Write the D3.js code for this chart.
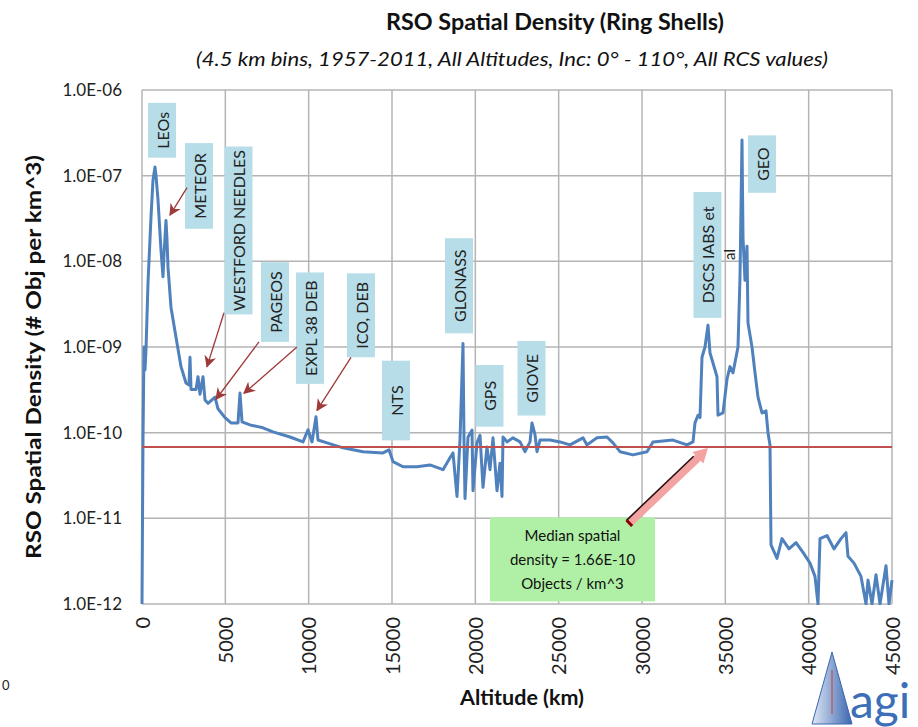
<!DOCTYPE html>
<html>
<head>
<meta charset="utf-8">
<script src="https://cdn.jsdelivr.net/npm/d3@7"></script>
<style>
  body { margin: 0; background: #fff; }
  svg { display: block; font-family: Lato, "Open Sans", sans-serif; }
  .tick line { display: none; }
  .domain { display: none; }
</style>
</head>
<body>
<svg id="chart" width="918" height="727"></svg>
<script>
// altitude (km) and spatial density (objects per km^3)
const altitudeKm = [
  0, 60, 120, 180, 240, 360, 540, 660, 780, 840, 960, 1140, 1260, 1320, 1440, 1500, 1560, 1740, 2040, 2340,
  2640, 2820, 2880, 2940, 3240, 3360, 3480, 3660, 3780, 3960, 4380, 4560, 4980, 5340, 5760, 5880, 6000, 6480, 7260, 7860,
  8880, 9660, 9960, 10200, 10440, 10560, 11100, 12060, 13260, 14460, 14820, 15060, 15660, 16500, 17280, 18060, 18480, 18660, 18900, 19080,
  19260, 19320, 19380, 19560, 19800, 19860, 20100, 20280, 20460, 20700, 20880, 21060, 21300, 21480, 21600, 21660, 21900, 22260, 22680, 22980,
  23280, 23400, 23580, 23700, 23880, 24480, 25080, 25680, 26460, 26700, 27300, 27900, 28260, 28680, 29460, 30300, 30660, 31860, 32700, 33060,
  33180, 33360, 33480, 33600, 33780, 33960, 34080, 34260, 34500, 34560, 34860, 35100, 35280, 35460, 35760, 35880, 36000, 36060, 36180, 36300,
  36360, 36600, 36780, 36960, 37200, 37440, 37560, 37680, 37740, 38100, 38400, 38820, 39240, 39660, 40080, 40380, 40560, 40680, 41100, 41520,
  41940, 42240, 42360, 42720, 43140, 43440, 43560, 43800, 44040, 44280, 44640, 44820, 45000
];
const densityPerKm3 = [
  1.0e-12, 8.3e-11, 1.0e-9, 5.4e-10, 9.3e-10, 5.6e-9, 3.3e-8, 8.9e-8, 1.26e-7, 1.0e-7, 5.2e-8, 1.35e-8, 6.6e-9, 1.2e-8, 3.0e-8, 1.8e-8, 8.5e-9, 2.9e-9, 1.3e-9, 5.9e-10,
  3.8e-10, 3.6e-10, 7.6e-10, 3.2e-10, 3.2e-10, 4.5e-10, 2.8e-10, 4.5e-10, 2.4e-10, 2.2e-10, 2.6e-10, 1.9e-10, 1.5e-10, 1.3e-10, 1.3e-10, 2.9e-10, 1.34e-10, 1.23e-10, 1.14e-10, 1.02e-10,
  8.9e-11, 7.8e-11, 1.08e-10, 7.8e-11, 1.53e-10, 8.2e-11, 7.6e-11, 6.65e-11, 6.0e-11, 5.8e-11, 6.3e-11, 4.6e-11, 4.0e-11, 4.0e-11, 4.2e-11, 3.7e-11, 5.1e-11, 5.8e-11, 1.8e-11, 8.3e-11,
  1.1e-9, 8.3e-11, 1.7e-11, 8.9e-11, 1.07e-10, 2.1e-11, 7.6e-11, 9.3e-11, 2.3e-11, 6.8e-11, 3.7e-11, 8.7e-11, 2.1e-11, 4.4e-11, 1.8e-11, 8.9e-11, 7.8e-11, 8.7e-11, 7.8e-11, 6.0e-11,
  7.8e-11, 1.3e-10, 9.5e-11, 6.0e-11, 8.2e-11, 8.2e-11, 7.8e-11, 7.2e-11, 8.7e-11, 7.2e-11, 8.7e-11, 8.9e-11, 7.6e-11, 6.0e-11, 5.5e-11, 6.0e-11, 7.8e-11, 8.2e-11, 7.2e-11, 7.8e-11,
  1.3e-10, 1.6e-10, 1.5e-10, 7.6e-10, 1.0e-9, 1.8e-9, 8.5e-10, 6.5e-10, 4.5e-10, 1.6e-10, 1.7e-10, 4.2e-10, 5.9e-10, 5.0e-10, 1.0e-9, 6.6e-9, 2.6e-7, 1.9e-8, 6.0e-9, 1.5e-8,
  1.9e-9, 1.0e-9, 5.0e-10, 2.6e-10, 1.7e-10, 1.8e-10, 1.0e-10, 7.2e-11, 4.9e-12, 3.4e-12, 5.8e-12, 4.4e-12, 5.2e-12, 4.0e-12, 3.0e-12, 2.1e-12, 1.0e-12, 5.8e-12, 6.3e-12, 4.4e-12,
  5.8e-12, 6.8e-12, 3.6e-12, 3.0e-12, 2.1e-12, 1.0e-12, 1.9e-12, 1.0e-12, 2.2e-12, 1.0e-12, 2.8e-12, 1.0e-12, 1.9e-12
];

const xTicks = [0, 5000, 10000, 15000, 20000, 25000, 30000, 35000, 40000, 45000];
const yTicks = [1e-12, 1e-11, 1e-10, 1e-9, 1e-8, 1e-7, 1e-6];
const medianLine = 6.8e-11;

// callout labels: centre altitude, top and bottom of the box as log10 density
const calloutText = ["LEOs", "METEOR", "WESTFORD NEEDLES", "PAGEOS", "EXPL 38 DEB", "ICO, DEB", "NTS", "GLONASS", "GPS", "GIOVE", "DSCS IABS et", "GEO"];
const calloutAlt  = [1200, 3420, 5790, 7980, 10080, 13140, 15240, 19020, 20850, 23370, 33930, 37200];
const calloutTop  = [-6.15, -6.62, -6.66, -8.01, -8.13, -8.14, -9.16, -7.73, -9.21, -8.93, -7.19, -6.53];
const calloutBot  = [-6.79, -7.62, -8.62, -8.94, -9.43, -9.12, -10.09, -8.84, -9.93, -9.80, -8.66, -7.20];

// red arrows: from [alt, log10] to [alt, log10]
const arrowFrom = [[2700, -7.14], [4920, -8.60], [7020, -8.94], [9300, -9.00], [12540, -9.12]];
const arrowTo   = [[1680, -7.46], [3900, -9.23], [4440, -9.61], [6120, -9.54], [10500, -9.74]];

const medianBoxAlt = [20880, 30780];
const medianBoxLog = [-10.99, -11.97];
const medianText = ["Median spatial", "density = 1.66E-10", "Objects / km^3"];
const pinkArrow = [[29220, -11.06], [33960, -10.18]];

const svg = d3.select("#chart");
const defs = svg.append("defs");
const x = d3.scaleLinear().domain([0, 45000]).range([142, 892]);
const y = d3.scaleLog().domain([1e-12, 1e-6]).range([604, 90]);
const ly = v => y(Math.pow(10, v));

svg.append("rect").attr("width", 918).attr("height", 727).attr("fill", "#fff");

// grid
const grid = svg.append("g").attr("stroke", "#b4b4b4").attr("stroke-width", 1.5);
grid.selectAll(".gy").data(yTicks).enter().append("line")
  .attr("x1", x(0)).attr("x2", x(45000)).attr("y1", d => y(d)).attr("y2", d => y(d));
grid.selectAll(".gx").data(xTicks).enter().append("line")
  .attr("x1", d => x(d)).attr("x2", d => x(d)).attr("y1", y(1e-6)).attr("y2", y(1e-12));

// axes
const yFmt = d => "1.0E-" + String(-Math.round(Math.log10(d))).padStart(2, "0");
const yAxis = svg.append("g").attr("transform", "translate(" + x(0) + ",0)")
  .call(d3.axisLeft(y).tickValues(yTicks).tickFormat(yFmt).tickSize(0).tickPadding(20));
yAxis.selectAll("text").attr("font-size", 17).attr("fill", "#222").attr("font-family", "Lato");

const xAxis = svg.append("g").attr("transform", "translate(0," + y(1e-12) + ")")
  .call(d3.axisBottom(x).tickValues(xTicks).tickFormat(d3.format("d")).tickSize(0));
xAxis.selectAll("text")
  .attr("transform", "rotate(-90)")
  .attr("x", -13).attr("y", 0).attr("dy", "0.36em")
  .attr("text-anchor", "end")
  .attr("font-size", 20).attr("fill", "#222").attr("font-family", "Lato");

// callout boxes
const callouts = svg.append("g");
calloutText.forEach((t, i) => {
  const cx = x(calloutAlt[i]), top = ly(calloutTop[i]), bot = ly(calloutBot[i]);
  callouts.append("rect").attr("x", cx - 14).attr("y", top).attr("width", 28).attr("height", bot - top)
    .attr("fill", "#b7dde8");
  callouts.append("text")
    .attr("transform", "translate(" + (cx + 1) + "," + ((top + bot) / 2) + ") rotate(-90)")
    .attr("text-anchor", "middle").attr("dy", "0.36em")
    .attr("font-size", 16).attr("fill", "#222").attr("font-family", "Lato")
    .text(t);
});
callouts.append("text")
  .attr("transform", "translate(" + x(35280) + "," + ly(-7.92) + ") rotate(-90)")
  .attr("text-anchor", "middle").attr("dy", "0.36em")
  .attr("font-size", 15).attr("fill", "#222").attr("font-family", "Lato").text("al");

// data line
defs.append("clipPath").attr("id", "plot").append("rect")
  .attr("x", x(0) - 2).attr("y", y(1e-6)).attr("width", x(45000) - x(0) + 4).attr("height", y(1e-12) - y(1e-6) + 1);
const series = altitudeKm.map((a, i) => ({ alt: a, v: densityPerKm3[i] }));
const line = d3.line().x(d => x(d.alt)).y(d => y(d.v));
svg.append("path").datum(series).attr("clip-path", "url(#plot)")
  .attr("fill", "none").attr("stroke", "#4f81bd").attr("stroke-width", 3)
  .attr("stroke-linejoin", "round").attr("d", line);

// median line
svg.append("line").attr("x1", x(0)).attr("x2", x(45000))
  .attr("y1", y(medianLine)).attr("y2", y(medianLine))
  .attr("stroke", "#c0504d").attr("stroke-width", 2);

// red arrows
defs.append("marker").attr("id", "head").attr("viewBox", "0 0 10 10")
  .attr("refX", 9).attr("refY", 5).attr("markerWidth", 12).attr("markerHeight", 12)
  .attr("markerUnits", "userSpaceOnUse").attr("orient", "auto")
  .append("path").attr("d", "M0,0 L10,5 L0,10 L3,5 Z").attr("fill", "#a0393a");
arrowFrom.forEach((f, i) => {
  svg.append("line")
    .attr("x1", x(f[0])).attr("y1", ly(f[1]))
    .attr("x2", x(arrowTo[i][0])).attr("y2", ly(arrowTo[i][1]))
    .attr("stroke", "#a0393a").attr("stroke-width", 1.3).attr("marker-end", "url(#head)");
});

// median callout box
const bx0 = x(medianBoxAlt[0]), bx1 = x(medianBoxAlt[1]), by0 = ly(medianBoxLog[0]), by1 = ly(medianBoxLog[1]);
svg.append("rect").attr("x", bx0).attr("y", by0).attr("width", bx1 - bx0).attr("height", by1 - by0).attr("fill", "#b0f0a6");
medianText.forEach((t, i) => {
  svg.append("text").attr("x", (bx0 + bx1) / 2).attr("y", by0 + 24 + i * 24)
    .attr("text-anchor", "middle").attr("font-size", 15).attr("fill", "#111").attr("font-family", "Lato").text(t);
});

// pink block arrow
const p0 = [x(pinkArrow[0][0]), ly(pinkArrow[0][1])], p1 = [x(pinkArrow[1][0]), ly(pinkArrow[1][1])];
const ang = Math.atan2(p1[1] - p0[1], p1[0] - p0[0]);
const len = Math.hypot(p1[0] - p0[0], p1[1] - p0[1]);
const pa = svg.append("g").attr("transform", "translate(" + p0[0] + "," + p0[1] + ") rotate(" + (ang * 180 / Math.PI) + ")");
pa.append("path").attr("d", `M0,-4 L${len - 14},-4 L${len - 14},-8 L${len},0 L${len - 14},8 L${len - 14},4 L0,4 Z`)
  .attr("fill", "#f4a3a3");
pa.append("line").attr("x1", 0).attr("y1", -4).attr("x2", len - 16).attr("y2", -4).attr("stroke", "#2a1010").attr("stroke-width", 1.6);
pa.append("rect").attr("x", -1).attr("y", -4).attr("width", 3).attr("height", 8).attr("fill", "#8b0000");

// titles
svg.append("text").attr("x", 555).attr("y", 30).attr("text-anchor", "middle")
  .attr("font-size", 22).attr("font-weight", "bold").attr("fill", "#111").attr("font-family", "Lato")
  .attr("textLength", 338).attr("lengthAdjust", "spacingAndGlyphs")
  .text("RSO Spatial Density (Ring Shells)");
svg.append("text").attr("x", 512).attr("y", 66).attr("text-anchor", "middle")
  .attr("font-size", 20).attr("font-style", "italic").attr("fill", "#111").attr("font-family", "Lato")
  .attr("textLength", 632).attr("lengthAdjust", "spacingAndGlyphs")
  .text("(4.5 km bins, 1957-2011, All Altitudes, Inc: 0° - 110°, All RCS values)");
svg.append("text").attr("transform", "translate(41,357) rotate(-90)").attr("text-anchor", "middle")
  .attr("font-size", 21).attr("font-weight", "bold").attr("fill", "#111").attr("font-family", "Lato")
  .attr("textLength", 404).attr("lengthAdjust", "spacingAndGlyphs")
  .text("RSO Spatial Density (# Obj per km^3)");
svg.append("text").attr("x", 522).attr("y", 705).attr("text-anchor", "middle")
  .attr("font-size", 20).attr("font-weight", "bold").attr("fill", "#111").attr("font-family", "Lato")
  .attr("textLength", 124).attr("lengthAdjust", "spacingAndGlyphs")
  .text("Altitude (km)");
svg.append("text").attr("x", 2).attr("y", 690).attr("font-size", 13).attr("fill", "#222").text("0");

// agi logo
const logo = svg.append("g").attr("transform", "translate(812,652)");
const grad = defs.append("linearGradient").attr("id", "tri").attr("x1", 0).attr("x2", 1);
grad.append("stop").attr("offset", 0).attr("stop-color", "#dfe8f5");
grad.append("stop").attr("offset", 1).attr("stop-color", "#3b66b0");
logo.append("path").attr("d", "M20,0 L40,72 L0,72 Z").attr("fill", "url(#tri)").attr("stroke", "#3b66b0").attr("stroke-width", 1);
logo.append("line").attr("x1", 20).attr("y1", 18).attr("x2", 20).attr("y2", 62).attr("stroke", "#c0504d").attr("stroke-width", 1.2);
logo.append("text").attr("x", 38).attr("y", 66).attr("font-size", 48).attr("fill", "#3d6fb8")
  .attr("font-family", "Lato").text("agi");
</script>
</body>
</html>
